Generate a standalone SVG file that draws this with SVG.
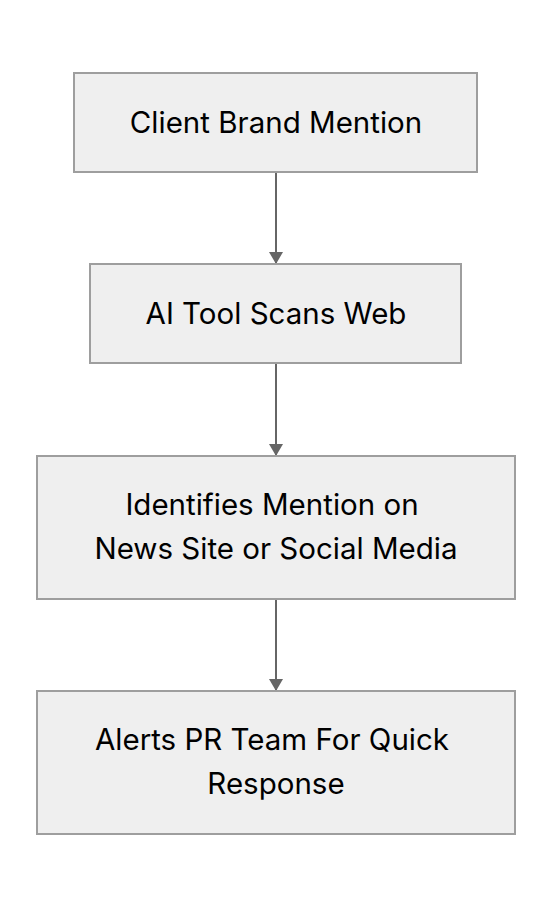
<svg xmlns="http://www.w3.org/2000/svg" width="552" height="908" viewBox="0 0 552 908">
<style>
.box{fill:#efefef;stroke:#9e9e9e;stroke-width:2}
.lbl{font-family:Inter,"Noto Sans",sans-serif;font-size:29.5px;fill:#000;text-anchor:middle}
.edge{stroke:#666;stroke-width:2;fill:none}
</style>
<defs>
<marker id="arr" viewBox="0 0 12 14" refX="12" refY="7" markerWidth="12" markerHeight="14" markerUnits="userSpaceOnUse" orient="auto">
<path d="M0,0 L12,7 L0,14 z" fill="#666"/>
</marker>
</defs>
<rect width="552" height="908" fill="#fff"/>
<g id="connectors">
<line class="edge" x1="276" y1="172" x2="276" y2="264" marker-end="url(#arr)"/>
<line class="edge" x1="276" y1="363" x2="276" y2="456" marker-end="url(#arr)"/>
<line class="edge" x1="276" y1="599" x2="276" y2="691" marker-end="url(#arr)"/>
</g>
<g id="n1">
<rect class="box" x="74" y="73" width="403" height="99"/>
<text class="lbl" x="276" y="133">Client Brand Mention</text>
</g>
<g id="n2">
<rect class="box" x="90" y="264" width="371" height="99"/>
<text class="lbl" x="276" y="324">AI Tool Scans Web</text>
</g>
<g id="n3">
<rect class="box" x="37" y="456" width="478" height="143"/>
<text class="lbl" x="272" y="515">Identifies Mention on</text>
<text class="lbl" x="276" y="559">News Site or Social Media</text>
</g>
<g id="n4">
<rect class="box" x="37" y="691" width="478" height="143"/>
<text class="lbl" x="272" y="750">Alerts PR Team For Quick</text>
<text class="lbl" x="276" y="794">Response</text>
</g>
</svg>
